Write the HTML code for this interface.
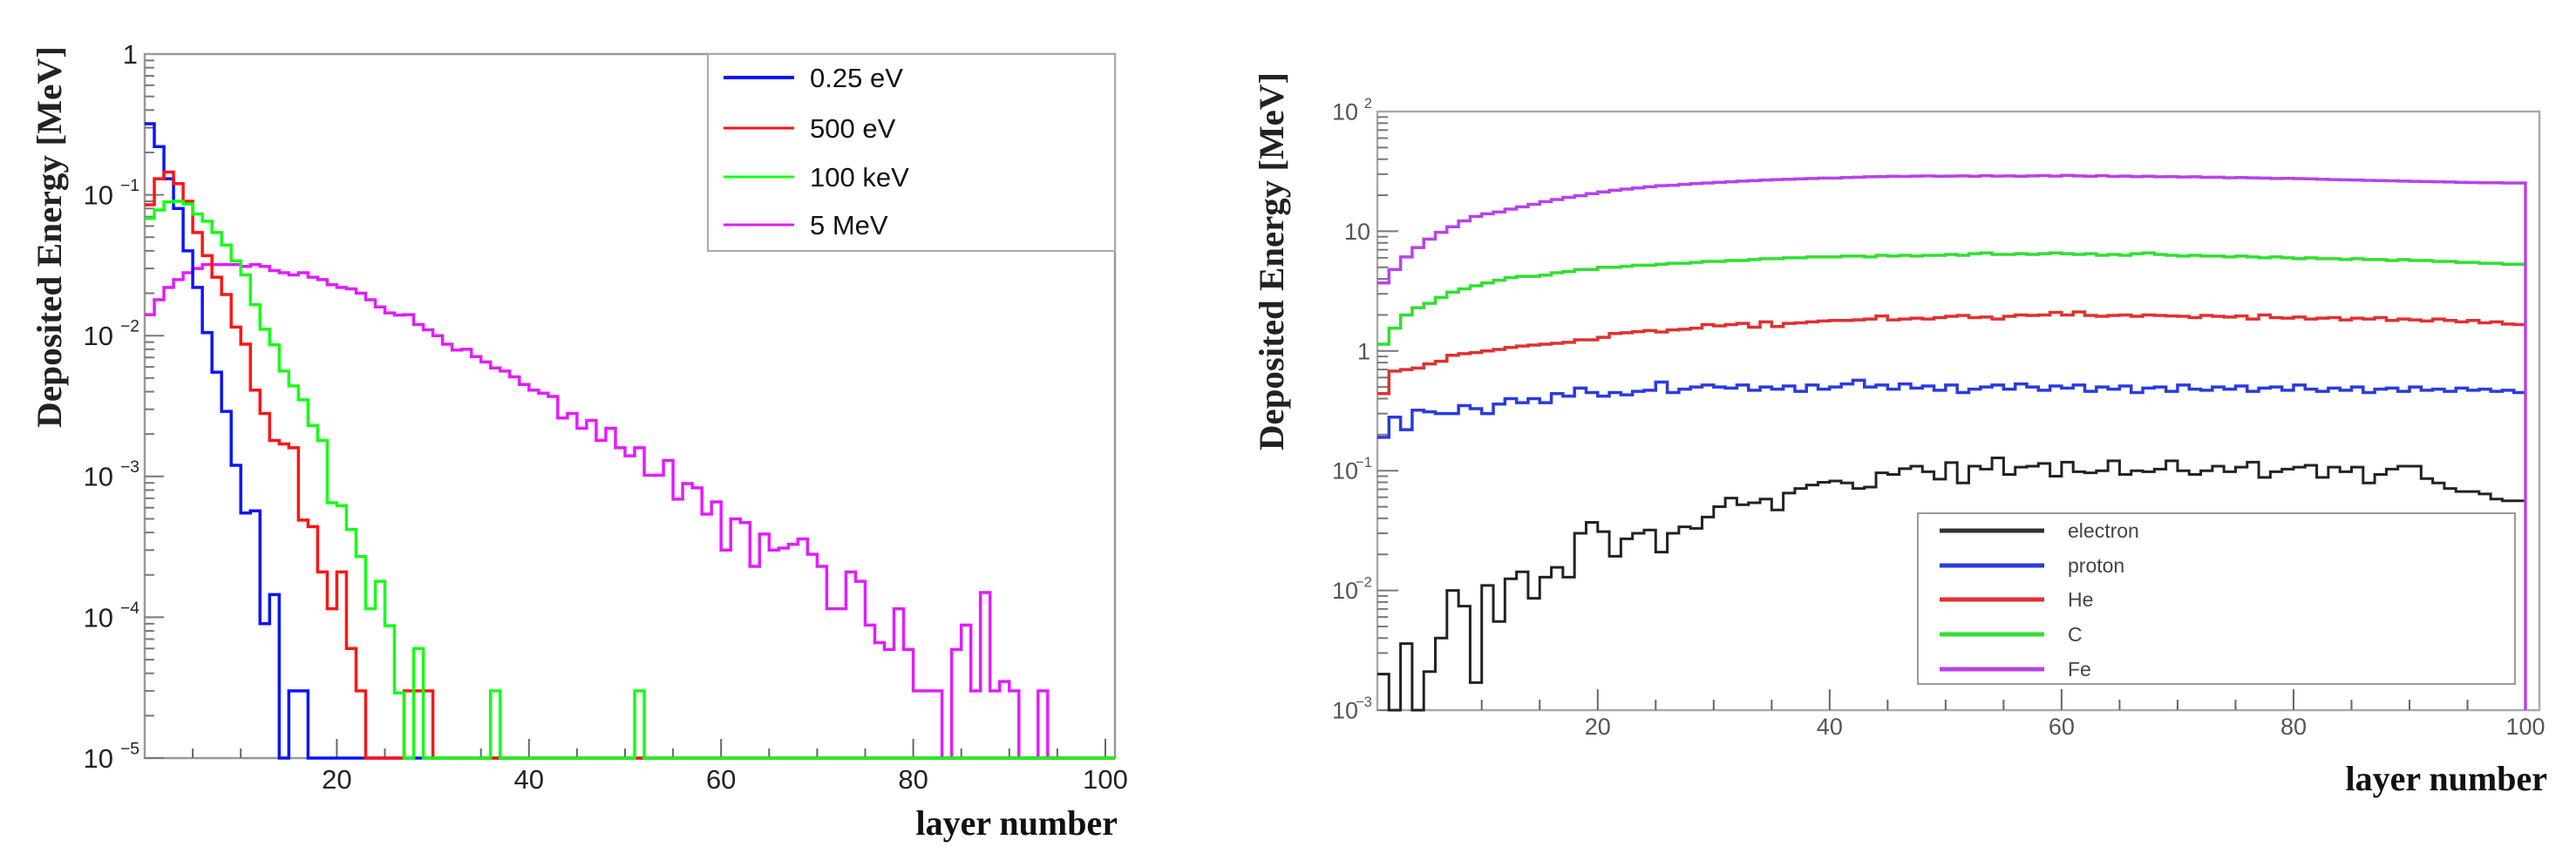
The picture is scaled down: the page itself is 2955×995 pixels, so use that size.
<!DOCTYPE html>
<html><head><meta charset="utf-8"><style>
html,body{margin:0;padding:0;background:#fff;}
svg{display:block;}
</style></head><body>
<svg id="fig" width="2955" height="995" viewBox="0 0 2955 995" xmlns="http://www.w3.org/2000/svg"></svg>
<script>
// ---------- Left chart data (bins 0..100, width 1) ----------
const leftLabels = ["0.25 eV","500 eV","100 keV","5 MeV"];
const leftBlue = [0.32,0.22,0.13,0.08,0.04,0.022,0.0105,0.0055,0.0029,0.0012,5.5e-4,5.7e-4,9e-5,1.45e-4,0,3e-5,3e-5];
const leftRed = [0.085,0.13,0.145,0.12,0.09,0.054,0.037,0.026,0.0196,0.0115,0.0087,0.0041,0.0028,0.0018,0.0017,0.0016,4.9e-4,4.4e-4,2.1e-4,1.15e-4,2.1e-4,6e-5,3e-5,0,0,0,0,3e-5,3e-5,3e-5];
const leftGreen = [0.068,0.078,0.089,0.09,0.086,0.073,0.065,0.054,0.044,0.034,0.027,0.0166,0.0111,0.0086,0.0056,0.0044,0.0035,0.0023,0.0018,6.5e-4,6.2e-4,4.2e-4,2.7e-4,1.15e-4,1.8e-4,8.7e-5,2.9e-5,0,6e-5,0,0,0,0,0,0,0,3e-5,0,0,0,0,0,0,0,0,0,0,0,0,0,0,3e-5];
const leftMagenta = [0.0141,0.018,0.022,0.025,0.028,0.030,0.032,0.032,0.032,0.032,0.031,0.032,0.031,0.029,0.028,0.027,0.028,0.026,0.025,0.023,0.022,0.0215,0.020,0.018,0.016,0.0145,0.014,0.0141,0.012,0.011,0.010,0.0087,0.0079,0.008,0.0071,0.0065,0.0059,0.0056,0.0051,0.0045,0.0041,0.0039,0.0037,0.0026,0.0028,0.0022,0.0025,0.0018,0.0022,0.0016,0.0014,0.0016,0.00102,0.00102,0.0013,0.00069,0.00089,0.00083,0.00054,0.00066,0.0003,0.0005,0.00047,0.00023,0.00039,0.0003,0.00031,0.00033,0.00036,0.00028,0.00023,0.000115,0.000115,0.00021,0.00018,8.8e-5,6.6e-5,5.9e-5,0.000115,5.9e-5,3e-5,3e-5,3e-5,0,5.9e-5,8.8e-5,3e-5,1.5e-4,3e-5,3.5e-5,3e-5,0,0,3e-5];
const leftXTicks = [20,40,60,80,100];
const leftYTicks = ["1","10","10","10","10","10"];
const leftYExp = ["","−1","−2","−3","−4","−5"];

// ---------- Right chart data (bins 1..99, width 1) ----------
const rightLabels = ["electron","proton","He","C","Fe"];
const rightElectron = [0.002,0,0.0036,0,0.0021,0.004,0.010,0.0074,0.0017,0.011,0.0055,0.0125,0.0143,0.0086,0.0129,0.0156,0.0129,0.030,0.037,0.031,0.0193,0.027,0.030,0.032,0.0209,0.030,0.034,0.033,0.041,0.050,0.059,0.052,0.054,0.058,0.047,0.065,0.071,0.076,0.080,0.082,0.079,0.071,0.073,0.096,0.093,0.104,0.109,0.098,0.085,0.117,0.079,0.109,0.103,0.128,0.093,0.107,0.109,0.115,0.090,0.118,0.098,0.096,0.100,0.121,0.093,0.100,0.098,0.103,0.121,0.100,0.093,0.100,0.109,0.098,0.107,0.118,0.088,0.098,0.103,0.107,0.111,0.088,0.107,0.098,0.107,0.079,0.093,0.103,0.109,0.109,0.086,0.079,0.071,0.067,0.067,0.064,0.058,0.056,0.056];
const rightProton = [0.19,0.28,0.22,0.32,0.31,0.30,0.30,0.35,0.33,0.30,0.36,0.40,0.37,0.40,0.37,0.44,0.42,0.49,0.45,0.42,0.45,0.43,0.46,0.47,0.55,0.45,0.48,0.50,0.52,0.50,0.49,0.52,0.47,0.50,0.48,0.51,0.46,0.52,0.48,0.50,0.53,0.57,0.50,0.52,0.48,0.53,0.49,0.51,0.47,0.52,0.45,0.48,0.50,0.52,0.48,0.53,0.50,0.47,0.51,0.49,0.52,0.46,0.50,0.48,0.51,0.45,0.49,0.50,0.46,0.52,0.48,0.47,0.50,0.48,0.51,0.46,0.49,0.50,0.47,0.52,0.48,0.46,0.49,0.47,0.50,0.45,0.48,0.49,0.46,0.50,0.47,0.48,0.46,0.49,0.47,0.48,0.46,0.47,0.45];
const rightHe = [0.44,0.68,0.70,0.72,0.78,0.82,0.92,0.95,0.97,1.0,1.03,1.07,1.1,1.12,1.14,1.16,1.18,1.24,1.24,1.3,1.4,1.42,1.45,1.48,1.44,1.5,1.52,1.55,1.66,1.62,1.66,1.7,1.58,1.75,1.6,1.7,1.72,1.75,1.78,1.8,1.8,1.82,1.85,1.96,1.82,1.85,1.88,1.85,1.9,1.95,1.98,1.9,1.92,1.85,1.95,2.0,1.98,2.0,2.1,2.0,2.12,1.98,1.95,1.98,2.0,1.95,2.0,1.98,1.96,1.95,1.9,1.98,1.95,1.92,1.96,1.85,2.0,1.9,1.88,1.92,1.85,1.88,1.9,1.82,1.88,1.85,1.9,1.8,1.85,1.82,1.78,1.85,1.8,1.75,1.8,1.72,1.75,1.68,1.66];
const rightC = [1.14,1.55,2.0,2.3,2.5,2.8,3.1,3.3,3.5,3.7,3.9,4.1,4.2,4.2,4.3,4.5,4.6,4.8,4.8,5.0,5.0,5.1,5.2,5.2,5.3,5.4,5.4,5.5,5.6,5.6,5.7,5.7,5.8,5.9,5.9,6.0,6.0,6.1,6.1,6.1,6.2,6.2,6.1,6.3,6.2,6.3,6.2,6.3,6.3,6.4,6.3,6.5,6.6,6.4,6.4,6.5,6.4,6.5,6.6,6.5,6.4,6.5,6.3,6.4,6.3,6.5,6.6,6.4,6.3,6.2,6.3,6.2,6.2,6.1,6.2,6.1,6.0,6.1,6.0,5.9,6.0,5.9,5.9,5.8,5.9,5.8,5.8,5.7,5.8,5.7,5.7,5.6,5.6,5.5,5.5,5.4,5.4,5.3,5.3];
const rightFe = [3.7,4.8,6.1,7.3,8.6,9.8,10.9,12.2,13.3,14.0,14.5,15.3,16.0,16.8,17.7,18.4,19.2,19.8,20.6,21.3,22.0,22.5,23.0,23.5,24.0,24.2,24.6,25.0,25.3,25.6,25.9,26.2,26.5,26.8,27.0,27.2,27.4,27.6,27.8,27.8,28.1,28.3,28.5,28.6,28.8,28.7,28.9,29.0,28.8,28.9,29.0,28.8,29.1,28.9,29.0,28.8,29.0,29.2,28.9,29.3,29.0,28.8,29.1,28.7,28.9,28.6,28.8,28.5,28.6,28.4,28.5,28.2,28.3,28.0,28.1,27.9,27.8,27.6,27.7,27.5,27.4,27.2,27.0,26.9,26.8,26.6,26.5,26.4,26.2,26.1,26.0,25.9,25.8,25.6,25.5,25.4,25.4,25.3,25.3];
const rightXTicks = [20,40,60,80,100];
const rightYTicks = ["10","10","1","10","10","10"];
const rightYExp = ["2","","","−1","−2","−3"];

const NS = "http://www.w3.org/2000/svg";
const svg = document.getElementById('fig');
function mk(tag, attrs, parent){ const e=document.createElementNS(NS,tag); for(const k in attrs) e.setAttribute(k,attrs[k]); (parent||svg).appendChild(e); return e; }

function makeAxes(o){
  const sx = v => o.x0 + (v - o.xmin) / (o.xmax - o.xmin) * (o.x1 - o.x0);
  const sy = v => { const lv = Math.log10(Math.max(v, Math.pow(10,o.lmin))); return o.y1 - (lv - o.lmin)/(o.lmax - o.lmin)*(o.y1 - o.y0); };
  return {sx, sy};
}
function drawHist(ax, o, vals, start, color, width, name){
  let d = "";
  for(let i=0;i<vals.length;i++){
    const xa = ax.sx(start+i), xb = ax.sx(start+i+1), y = ax.sy(vals[i]);
    d += (i===0 ? "M"+xa+","+y : "L"+xa+","+y) + "L"+xb+","+y;
  }
  if(o.dropEnd) d += "L"+ax.sx(start+vals.length)+","+o.y1;
  const p = mk('path',{d:d,fill:'none',stroke:color,'stroke-width':width,'stroke-linejoin':'miter'});
  
  
  return p;
}
function drawFrameAndTicks(ax,o,g,xticks,ylab,yexp){
  mk('rect',{x:o.x0,y:o.y0,width:o.x1-o.x0,height:o.y1-o.y0,fill:'none',stroke:o.frameColor,'stroke-width':2.5},g);
  for(let v=5; v<=100; v+=5){
    const major = v%20===0;
    mk('line',{x1:ax.sx(v),x2:ax.sx(v),y1:o.y1,y2:o.y1-(major?o.majT:o.minT),stroke:'#666','stroke-width':2},g);
  }
  for(let i=0;i<xticks.length;i++){
    const t = mk('text',{x:ax.sx(xticks[i]),y:o.xlabY,'text-anchor':'middle','font-family':'Liberation Sans, sans-serif','font-size':o.tickFs,fill:o.tickColor},g);
    t.textContent = xticks[i];
    
    
  }
  for(let e=o.lmin; e<o.lmax; e++){
    for(let m=1;m<10;m++){
      const v = m*Math.pow(10,e), y = ax.sy(v);
      mk('line',{x1:o.x0,x2:o.x0+(m===1?o.majT:o.minT),y1:y,y2:y,stroke:'#777','stroke-width':2},g);
    }
  }
  for(let i=0;i<ylab.length;i++){
    const e = o.lmax - i, y = ax.sy(Math.pow(10,e));
    const t = mk('text',{x:o.x0-(yexp[i]?o.expW:8),y:y+o.tickFs*0.35,'text-anchor':'end','font-family':'Liberation Sans, sans-serif','font-size':o.tickFs,fill:o.tickColor},g);
    t.textContent = ylab[i];
    
    
    if(yexp[i]){
      const s = mk('text',{x:o.x0-6,y:y-o.tickFs*0.15,'text-anchor':'end','font-family':'Liberation Sans, sans-serif','font-size':o.tickFs*0.62,fill:o.tickColor},g);
      s.textContent = yexp[i];
      
      
    }
  }
}
function titles(o,g){
  const xt = mk('text',{x:o.xtX,y:o.xtY,'text-anchor':'end','font-family':'Liberation Serif, serif','font-weight':'bold','font-size':40,fill:'#111'},g);
  xt.textContent = 'layer number';
  
  
  const yt = mk('text',{x:0,y:0,'text-anchor':'middle','font-family':'Liberation Serif, serif','font-weight':'bold','font-size':40,fill:'#222',textLength:o.ytLen,lengthAdjust:'spacingAndGlyphs',transform:'translate('+o.ytX+','+o.ytY+') rotate(-90)'},g);
  yt.textContent = 'Deposited Energy [MeV]';
  
  
}

// ---- Left chart ----
const L = {x0:166,x1:1279,y0:62,y1:870,xmin:0,xmax:101,lmin:-5,lmax:0,frameColor:'#999',tickColor:'#222',tickFs:31,majT:22,minT:11,expW:36,xlabY:905,xtX:1282,xtY:958,ytX:70,ytY:272,ytLen:438};
const gL = mk('g',{});


const axL = makeAxes(L);
drawFrameAndTicks(axL,L,gL,leftXTicks,leftYTicks,leftYExp);
const pad = (a)=>a.concat(new Array(101-a.length).fill(0));
gL.appendChild(drawHist(axL,L,pad(leftMagenta),0,'#e21cff',3.5,'series-5mev'));
gL.appendChild(drawHist(axL,L,pad(leftBlue),0,'#0a14ff',3.5,'series-025ev'));
gL.appendChild(drawHist(axL,L,pad(leftRed),0,'#ff1414',3.5,'series-500ev'));
gL.appendChild(drawHist(axL,L,pad(leftGreen),0,'#14ff14',3.5,'series-100kev'));
titles(L,gL);
const lg = mk('g',{},gL);


mk('rect',{x:812,y:62,width:467,height:226,fill:'#fff',stroke:'#aaa','stroke-width':2},lg);
const lcol = ['#0a14ff','#ff1414','#14ff14','#e21cff'];
const lys = [89,147,203,258];
for(let i=0;i<leftLabels.length;i++){
  mk('line',{x1:830,x2:911,y1:lys[i],y2:lys[i],stroke:lcol[i],'stroke-width':i===0?4:3},lg);
  const t = mk('text',{x:929,y:lys[i]+11,'font-family':'Liberation Sans, sans-serif','font-size':31,fill:'#111'},lg);
  t.textContent = leftLabels[i];
  
  
}

// ---- Right chart ----
const R = {x0:1580,x1:2913,y0:128,y1:815,xmin:1,xmax:101.2,lmin:-3,lmax:2,frameColor:'#aaa',tickColor:'#555',tickFs:27,majT:24,minT:12,expW:22,xlabY:843,xtX:2922,xtY:907,ytX:1472,ytY:300,ytLen:434,dropEnd:true};
const gR = mk('g',{});


const axR = makeAxes(R);
drawFrameAndTicks(axR,R,gR,rightXTicks,rightYTicks,rightYExp);
gR.appendChild(drawHist(axR,{y1:R.y1},rightElectron,1,'#222',3,'series-electron'));
gR.appendChild(drawHist(axR,{y1:R.y1},rightProton,1,'#2a3adf',3.5,'series-proton'));
gR.appendChild(drawHist(axR,{y1:R.y1},rightHe,1,'#e03030',3.5,'series-he'));
gR.appendChild(drawHist(axR,{y1:R.y1},rightC,1,'#30e030',3.5,'series-c'));
gR.appendChild(drawHist(axR,R,rightFe,1,'#b743e8',3.5,'series-fe'));
titles(R,gR);
const rg = mk('g',{},gR);


mk('rect',{x:2200,y:589,width:685,height:196,fill:'#fff',stroke:'#999','stroke-width':2},rg);
const rcol = ['#333','#2a3adf','#e03030','#30e030','#b743e8'];
const rys = [609,649,688,728,768];
for(let i=0;i<rightLabels.length;i++){
  mk('line',{x1:2225,x2:2345,y1:rys[i],y2:rys[i],stroke:rcol[i],'stroke-width':5},rg);
  const t = mk('text',{x:2372,y:rys[i]+8,'font-family':'Liberation Sans, sans-serif','font-size':23,fill:'#444'},rg);
  t.textContent = rightLabels[i];
  
  
}
</script>
</body></html>
